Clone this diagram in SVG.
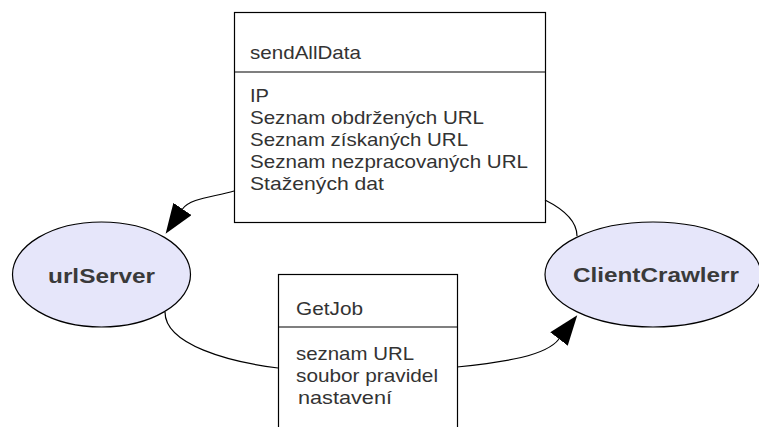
<svg xmlns="http://www.w3.org/2000/svg" width="759" height="427" viewBox="0 0 759 427">
  <style>
    .box { fill: #ffffff; stroke: #000000; stroke-width: 1.2; }
    .sep { stroke: #000000; stroke-width: 1.2; }
    .actor { fill: #e6e6fa; stroke: #000000; stroke-width: 1.2; }
    .txt { font-family: "Liberation Sans", Arial, sans-serif; font-size: 18.5px; fill: #333333; }
    .name { font-family: "Liberation Sans", Arial, sans-serif; font-size: 21px; font-weight: bold; fill: #3a3a3a; text-anchor: middle; }
    .edge { fill: none; stroke: #000000; stroke-width: 1.2; }
  </style>
  <defs>
    <marker id="arrow" viewBox="0 0 30 22" refX="0" refY="11" markerWidth="30" markerHeight="22" markerUnits="userSpaceOnUse" orient="auto">
      <path d="M0,0 L30,11 L0,22 z" fill="#000000"/>
    </marker>
  </defs>
  <rect width="759" height="427" fill="#ffffff"/>

  <g id="urlServer">
    <ellipse class="actor" cx="101.5" cy="274.5" rx="89" ry="52.5"/>
    <text class="name" x="101.5" y="283" textLength="107" lengthAdjust="spacingAndGlyphs">urlServer</text>
  </g>

  <g id="ClientCrawlerr">
    <ellipse class="actor" cx="653" cy="274.5" rx="108" ry="52.5"/>
    <text class="name" x="656" y="282" textLength="166" lengthAdjust="spacingAndGlyphs">ClientCrawlerr</text>
  </g>

  <g id="sendAllData">
    <rect class="box" x="234.5" y="12.5" width="311" height="210"/>
    <line class="sep" x1="234.5" y1="72" x2="545.5" y2="72"/>
    <text class="txt" x="250" y="58.5" textLength="111" lengthAdjust="spacingAndGlyphs">sendAllData</text>
    <text class="txt" x="250" y="102" textLength="19" lengthAdjust="spacingAndGlyphs">IP</text>
    <text class="txt" x="250" y="124" textLength="234" lengthAdjust="spacingAndGlyphs">Seznam obdržených URL</text>
    <text class="txt" x="250" y="146" textLength="218" lengthAdjust="spacingAndGlyphs">Seznam získaných URL</text>
    <text class="txt" x="250" y="168" textLength="278" lengthAdjust="spacingAndGlyphs">Seznam nezpracovaných URL</text>
    <text class="txt" x="250" y="190" textLength="134" lengthAdjust="spacingAndGlyphs">Stažených dat</text>
  </g>

  <g id="GetJob">
    <rect class="box" x="278.5" y="274.5" width="179" height="170"/>
    <line class="sep" x1="278.5" y1="327" x2="457.5" y2="327"/>
    <text class="txt" x="296" y="315" textLength="67" lengthAdjust="spacingAndGlyphs">GetJob</text>
    <text class="txt" x="296" y="360" textLength="118" lengthAdjust="spacingAndGlyphs">seznam URL</text>
    <text class="txt" x="296" y="382" textLength="142" lengthAdjust="spacingAndGlyphs">soubor pravidel</text>
    <text class="txt" x="298" y="403.5" textLength="94" lengthAdjust="spacingAndGlyphs">nastavení</text>
  </g>

  <g id="connectors">
    <path class="edge" d="M234,191 C214,197 190,198 182.5,209" marker-end="url(#arrow)"/>
    <path class="edge" d="M545,200 C565,210 577,222 577,236"/>
    <path class="edge" d="M165,312 C165,345 230,362 278,368"/>
    <path class="edge" d="M457,367 C505,362 546,356 559,339" marker-end="url(#arrow)"/>
  </g>
</svg>
